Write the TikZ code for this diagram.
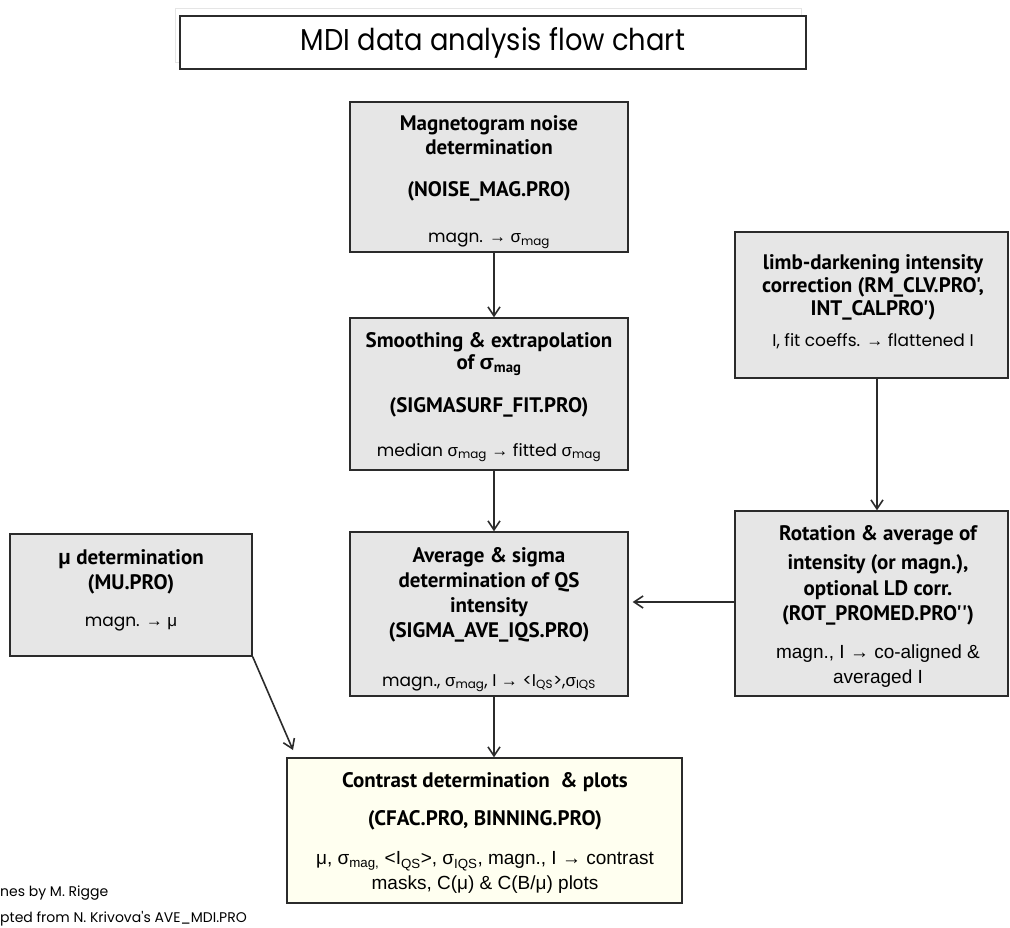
\documentclass[tikz,border=0pt]{standalone}
\usepackage{fontspec}
\usepackage{graphicx}
\setmainfont{Liberation Sans}
\newfontfamily\ptsans{PT Sans}
\newfontfamily\geo{Poppins}
\newfontfamily\lib{Liberation Sans}
\usetikzlibrary{arrows.meta}
\definecolor{boxline}{HTML}{2B2B2B}
\definecolor{boxgray}{HTML}{E6E6E6}
\definecolor{boxivory}{HTML}{FFFFF0}
\newcommand\ra{{\lib →}}
\newcommand\sg{{\lib σ}}
\newcommand\mmu{{\lib μ}}
\newcommand\sbs[1]{\textsubscript{#1}}
\tikzset{
  box/.style={draw=boxline, line width=1.4pt, fill=boxgray, inner sep=0pt},
  hd/.style={font=\ptsans\bfseries\fontsize{21}{25}\selectfont, inner sep=0pt, text height=14.5pt, text depth=0pt},
  gr/.style={font=\geo\fontsize{17}{20}\selectfont, inner sep=0pt, text height=12pt, text depth=0pt},
  ar/.style={font=\lib\fontsize{19}{22}\selectfont, inner sep=0pt, text height=13.5pt, text depth=0pt},
  foot/.style={font=\geo\fontsize{14}{16}\selectfont, inner sep=0pt, text height=10pt, text depth=0pt, anchor=west},
  conn/.style={-{Straight Barb[length=9pt,width=12pt]}, line width=1.6pt, draw=boxline},
}
\begin{document}
\begin{tikzpicture}[x=1pt,y=-1pt]
\useasboundingbox (0,0) rectangle (1010,928);
\fill[white] (0,0) rectangle (1010,928);
% title
\draw[black!10, line width=1pt] (175,9) rectangle (801,63);
\node[draw=boxline, line width=1.4pt, fill=white, minimum width=626pt, minimum height=53pt, inner sep=0pt] (title) at (493,42.5) {};
\node[inner sep=0pt, font=\geo] (tt) at (493,43) {\resizebox{384pt}{23pt}{MDI data analysis flow chart}};
% boxes
\node[box, minimum width=278pt, minimum height=150pt] (b1) at (489,177) {};
\node[box, minimum width=278pt, minimum height=152pt] (b2) at (489,394) {};
\node[box, minimum width=278pt, minimum height=164pt] (b3) at (489,614) {};
\node[box, minimum width=242pt, minimum height=122pt] (mu) at (131,595) {};
\node[box, minimum width=273pt, minimum height=146pt] (limb) at (871.5,305) {};
\node[box, minimum width=273pt, minimum height=185pt] (rot) at (871.5,603.5) {};
\node[box, fill=boxivory, minimum width=395pt, minimum height=145pt] (bot) at (484.5,830.5) {};
% box 1 text
\node[hd] (b1a) at (489,123) {Magnetogram noise};
\node[hd] (b1b) at (489,147) {determination};
\node[hd] (b1c) at (489,189) {(NOISE\_MAG.PRO)};
\node[gr] (b1d) at (489,237) {magn. \ra{} \sg\sbs{mag}};
% box 2 text
\node[hd] (b2a) at (489,340) {Smoothing \& extrapolation};
\node[hd] (b2b) at (489,362) {of \sg\sbs{mag}};
\node[hd] (b2c) at (489,405) {(SIGMASURF\_FIT.PRO)};
\node[gr] (b2d) at (489,450) {median \sg\sbs{mag} \ra{} fitted \sg\sbs{mag}};
% box 3 text
\node[hd] (b3a) at (489,555) {Average \& sigma};
\node[hd] (b3b) at (489,580) {determination of QS};
\node[hd] (b3c) at (489,605) {intensity};
\node[hd] (b3d) at (489,630) {(SIGMA\_AVE\_IQS.PRO)};
\node[gr] (b3e) at (489,680) {magn., \sg\sbs{mag}, I \ra{} <I\sbs{QS}>,\sg\sbs{IQS}};
% mu box text
\node[hd] (mua) at (131,557) {\mmu{} determination};
\node[hd] (mub) at (131,582) {(MU.PRO)};
\node[gr] (muc) at (131,620) {magn. \ra{} \mmu};
% limb box text
\node[hd] (la) at (873,262) {limb-darkening intensity};
\node[hd] (lb) at (873,285) {correction (RM\_CLV.PRO',};
\node[hd] (lc) at (873,308) {INT\_CALPRO')};
\node[gr] (ld) at (873,340) {I, fit coeffs. \ra{} flattened I};
% rotation box text
\node[hd] (ra) at (878,533) {Rotation \& average of};
\node[hd] (rb) at (878,562) {intensity (or magn.),};
\node[hd] (rc) at (878,588) {optional LD corr.};
\node[hd] (rd) at (878,613) {(ROT\_PROMED.PRO'')};
\node[ar] (re) at (878,652) {magn., I \ra{} co-aligned \&};
\node[ar] (rf) at (878,677) {averaged I};
% bottom box text
\node[hd] (ba) at (485,780) {Contrast determination \ \& plots};
\node[hd] (bb) at (485,818) {(CFAC.PRO, BINNING.PRO)};
\node[ar] (bc) at (485,858) {\mmu, \sg\sbs{mag,} <I\sbs{QS}>, \sg\sbs{IQS}, magn., I \ra{} contrast};
\node[ar] (bd) at (485,883) {masks, C(\mmu) \& C(B/\mmu) plots};
% footnotes
\node[foot] (f1) at (0,891) {nes by M. Rigge};
\node[foot] (f2) at (0,917) {pted from N. Krivova's AVE\_MDI.PRO};
% connectors
\coordinate (tipc) at (293,750);
\draw[conn] ([xshift=5pt]b1.south) -- ([xshift=5pt]b2.north);
\draw[conn] ([xshift=5pt]b2.south) -- ([xshift=5pt]b3.north);
\draw[conn] ([xshift=5pt]b3.south) -- ([xshift=9.5pt]bot.north);
\draw[conn] ([xshift=5.5pt]limb.south) -- ([xshift=5.5pt]rot.north);
\draw[conn, shorten >=4pt] ([yshift=1.5pt]rot.west) -- ([yshift=1.5pt]rot.west -| b3.east);
\draw[conn] (mu.south east) -- (tipc);
\end{tikzpicture}
\end{document}
